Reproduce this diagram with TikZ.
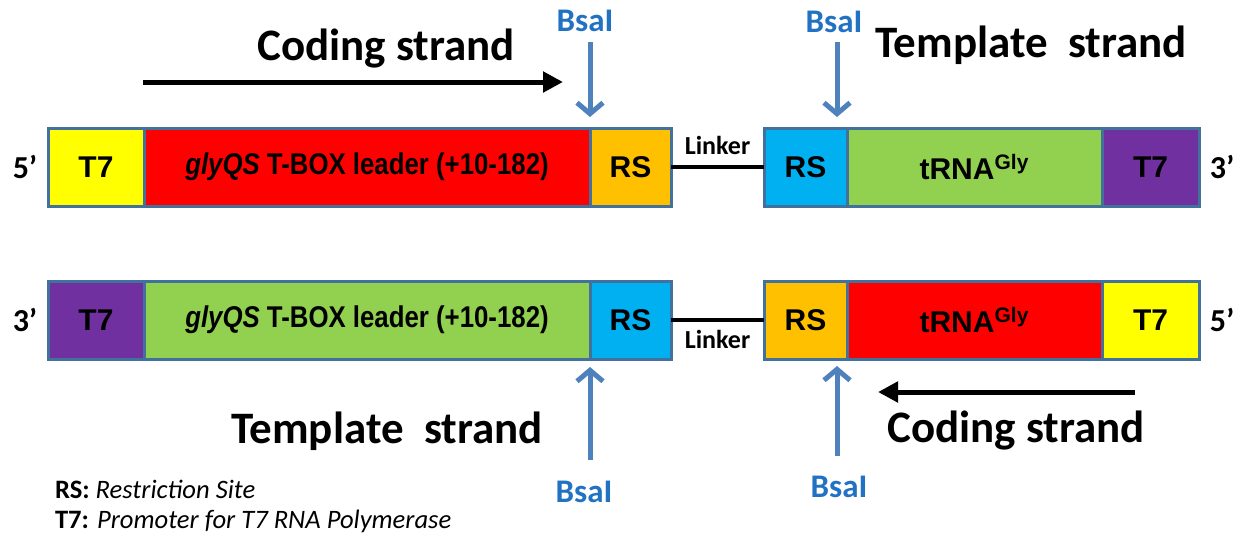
\documentclass[tikz,border=0pt]{standalone}
\usepackage{fontspec}
\setmainfont{Liberation Sans}
\newfontfamily\calfont{Carlito}
\newfontfamily\narrowfont[FakeStretch=0.86]{Liberation Sans}
\usepackage{xcolor}
\usetikzlibrary{positioning, arrows.meta}

\definecolor{boxline}{HTML}{41719C}
\definecolor{tsevyellow}{HTML}{FFFF00}
\definecolor{leadred}{HTML}{FF0000}
\definecolor{rsorange}{HTML}{FFC000}
\definecolor{rsblue}{HTML}{00B0F0}
\definecolor{trnagreen}{HTML}{92D050}
\definecolor{tsevpurple}{HTML}{7030A0}
\definecolor{cutblue}{HTML}{4F81BD}
\definecolor{bsatext}{HTML}{2272C3}

\begin{document}
\begin{tikzpicture}[
    x=0.5pt, y=-0.5pt,
    node distance=0pt,
    seg/.style={draw=boxline, line width=1.5pt, outer sep=0pt, inner sep=0pt,
                minimum height=39pt, font=\fontsize{15}{17}\selectfont\bfseries},
    leader/.style={seg, font=\narrowfont\fontsize{15}{17}\selectfont\bfseries},
    ends/.style={font=\calfont\fontsize{16}{18}\selectfont\bfseries},
    strand/.style={anchor=base, font=\calfont\fontsize{22.5}{26}\selectfont\bfseries},
    enzyme/.style={anchor=base, text=bsatext, font=\calfont\fontsize{16.5}{19}\selectfont\bfseries},
    lnk/.style={font=\calfont\fontsize{13}{15}\selectfont\bfseries},
    cut/.style={draw=cutblue, line width=2.5pt, -{Straight Barb[length=5.5pt, width=13pt]}},
    dir/.style={line width=2.5pt, -{Triangle[length=10pt, width=10pt]}},
    linker/.style={line width=2pt},
    key/.style={anchor=west, font=\calfont\fontsize{13.3}{15}\selectfont},
]
\useasboundingbox (0,0) rectangle (1247,537);

% Top construct (5' -> 3')
\node[seg, fill=tsevyellow, minimum width=48pt, anchor=west] (t7A) at (48,167) {T7};
\node[leader, fill=leadred, minimum width=223pt, right=of t7A] (leadA) {\textit{glyQS} T-BOX leader (+10-182)};
\node[seg, fill=rsorange, minimum width=40.5pt, right=of leadA] (rsA) {RS};
\node[seg, fill=rsblue, minimum width=41.5pt, anchor=west] (rsB) at (764,167) {RS};
\node[seg, fill=trnagreen, minimum width=127.5pt, right=of rsB] (trnaB) {tRNA\textsuperscript{Gly}};
\node[seg, fill=tsevpurple, minimum width=48.5pt, right=of trnaB] (t7B) {T7};
\draw[linker] (rsA) -- node[lnk, above=2pt] (lnkA) {Linker} (rsB);

\node[ends] (fiveA) at (25,167) {5’};
\node[ends] (threeB) at (1222,167) {3’};

% Bottom construct (3' <- 5')
\node[seg, fill=tsevpurple, minimum width=48pt, anchor=west] (t7C) at (48,320) {T7};
\node[leader, fill=trnagreen, minimum width=223pt, right=of t7C] (leadC) {\textit{glyQS} T-BOX leader (+10-182)};
\node[seg, fill=rsblue, minimum width=40.5pt, right=of leadC] (rsC) {RS};
\node[seg, fill=rsorange, minimum width=41.5pt, anchor=west] (rsD) at (764,320) {RS};
\node[seg, fill=leadred, minimum width=127.5pt, right=of rsD] (trnaD) {tRNA\textsuperscript{Gly}};
\node[seg, fill=tsevyellow, minimum width=48.5pt, right=of trnaD] (t7D) {T7};
\draw[linker] (rsC) -- node[lnk, below=1pt] (lnkC) {Linker} (rsD);

\node[ends] (threeC) at (25,320) {3’};
\node[ends] (fiveD) at (1222,320) {5’};

% Strand labels
\node[strand] (codA) at (386,60) {Coding strand};
\node[strand] (tmpB) at (1031,57) {Template\ \ strand};
\node[strand] (tmpC) at (387,443) {Template\ \ strand};
\node[strand] (codD) at (1016,442) {Coding strand};
\coordinate (codAfrom) at (143,82);
\coordinate (codAto) at (563,82);
\coordinate (codDfrom) at (1135,392);
\coordinate (codDto) at (878,392);
\draw[dir] (codAfrom) -- (codAto);
\draw[dir] (codDfrom) -- (codDto);

% BsaI cut sites
\node[enzyme] (bsaA) at (585,31) {BsaI};
\node[enzyme] (bsaB) at (834,32) {BsaI};
\node[enzyme] (bsaC) at (584,502) {BsaI};
\node[enzyme] (bsaD) at (839,497) {BsaI};
\draw[cut, shorten <=2pt, shorten >=5.5pt] (bsaA.south -| rsA.north west) -- (rsA.north west);
\draw[cut, shorten <=1.5pt, shorten >=5.5pt] (bsaB.south -| 837,0) -- (837,0 |- rsB.north);
\draw[cut, shorten <=7pt, shorten >=4pt] (bsaC.north -| rsC.south west) -- (rsC.south west);
\draw[cut, shorten <=6.5pt, shorten >=3.5pt] (bsaD.north -| 837,0) -- (837,0 |- rsD.south);

% Legend
\node[key] (keyRS) at (48,489) {\textbf{RS:} \textit{Restriction Site}};
\node[key] (keyT7) at (48,521) {\textbf{T7:} \textit{Promoter for T7 RNA Polymerase}};

\end{tikzpicture}
\end{document}
